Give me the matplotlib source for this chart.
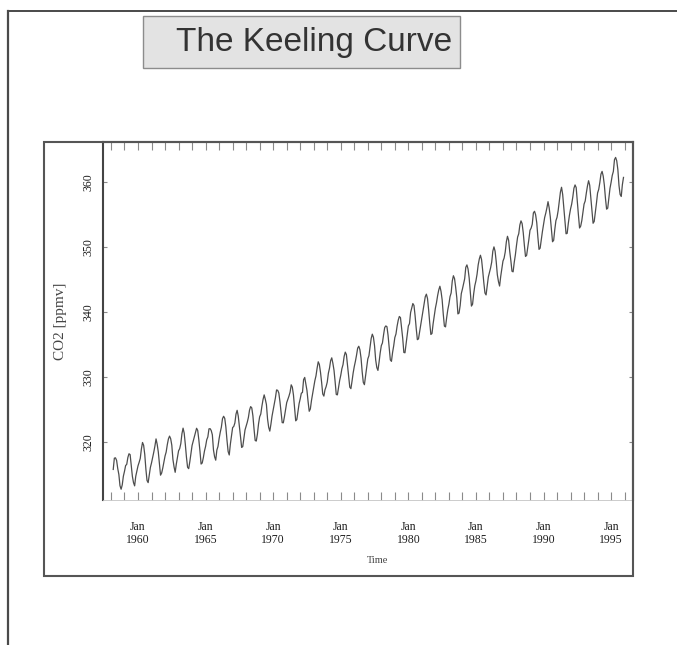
import matplotlib
matplotlib.use('Agg')
import matplotlib.pyplot as plt
from matplotlib.patches import Rectangle
from matplotlib.lines import Line2D
from matplotlib.ticker import FixedLocator
import numpy as np

W, H = 677, 645

title = "The Keeling Curve"
x_label = "Time"
y_label = "CO2 [ppmv]"

start_year = 1958
start_month = 3
co2_ppmv = [
    # 1958 (Mar-Dec)
    315.71, 317.45, 317.50, 317.10, 315.86, 314.93, 313.20, 312.66, 313.33, 314.67,
    # 1959
    315.42, 316.31, 316.50, 317.56, 318.13, 318.00, 316.39, 314.65, 313.68, 313.18, 314.66, 315.43,
    # 1960
    316.27, 316.81, 317.42, 318.87, 319.87, 319.43, 318.01, 315.74, 314.00, 313.68, 314.84, 316.03,
    # 1961
    316.73, 317.54, 318.38, 319.31, 320.42, 319.61, 318.42, 316.63, 314.83, 315.16, 315.94, 316.85,
    # 1962
    317.78, 318.40, 319.53, 320.42, 320.85, 320.45, 319.45, 317.25, 316.11, 315.27, 316.53, 317.53,
    # 1963
    318.58, 318.92, 319.70, 321.22, 322.08, 321.31, 319.58, 317.61, 316.05, 315.83, 316.91, 318.20,
    # 1964
    319.41, 320.07, 320.74, 321.40, 322.06, 321.73, 320.27, 318.54, 316.54, 316.71, 317.53, 318.55,
    # 1965
    319.27, 320.28, 320.73, 321.97, 322.00, 321.71, 321.05, 318.71, 317.66, 317.14, 318.70, 319.25,
    # 1966
    320.46, 321.43, 322.23, 323.54, 323.91, 323.59, 322.24, 320.20, 318.48, 317.94, 319.63, 320.87,
    # 1967
    322.17, 322.34, 322.88, 324.25, 324.83, 323.93, 322.38, 320.76, 319.10, 319.24, 320.56, 321.80,
    # 1968
    322.40, 322.99, 323.73, 324.86, 325.40, 325.20, 323.98, 321.95, 320.18, 320.09, 321.16, 322.74,
    # 1969
    323.83, 324.26, 325.47, 326.50, 327.21, 326.54, 325.72, 323.50, 322.22, 321.62, 322.69, 323.95,
    # 1970
    324.89, 325.82, 326.77, 327.97, 327.91, 327.50, 326.18, 324.53, 322.93, 322.90, 323.85, 324.96,
    # 1971
    326.01, 326.51, 327.01, 327.62, 328.76, 328.40, 327.20, 325.27, 323.20, 323.40, 324.63, 325.85,
    # 1972
    326.60, 327.47, 327.58, 329.56, 329.90, 328.92, 327.88, 326.16, 324.68, 325.04, 326.34, 327.39,
    # 1973
    328.37, 329.40, 330.14, 331.33, 332.31, 331.90, 330.70, 329.15, 327.35, 327.02, 327.99, 328.48,
    # 1974
    329.18, 330.55, 331.32, 332.48, 332.92, 332.08, 331.01, 329.23, 327.27, 327.21, 328.29, 329.41,
    # 1975
    330.23, 331.25, 331.87, 333.14, 333.80, 333.43, 331.73, 329.90, 328.40, 328.17, 329.32, 330.59,
    # 1976
    331.58, 332.39, 333.33, 334.41, 334.71, 334.17, 332.89, 330.77, 329.14, 328.78, 330.14, 331.52,
    # 1977
    332.75, 333.24, 334.53, 335.90, 336.57, 336.10, 334.76, 332.59, 331.42, 330.98, 332.24, 333.68,
    # 1978
    334.80, 335.22, 336.47, 337.59, 337.84, 337.72, 336.37, 334.51, 332.60, 332.38, 333.75, 334.78,
    # 1979
    336.05, 336.59, 337.79, 338.71, 339.30, 339.12, 337.56, 335.92, 333.75, 333.70, 335.12, 336.56,
    # 1980
    337.84, 338.19, 339.91, 340.60, 341.29, 341.00, 339.39, 337.43, 335.72, 335.84, 336.93, 338.04,
    # 1981
    339.06, 340.30, 341.21, 342.33, 342.74, 342.08, 340.32, 338.26, 336.52, 336.68, 338.19, 339.44,
    # 1982
    340.57, 341.44, 342.53, 343.39, 343.96, 343.18, 341.88, 339.65, 337.81, 337.69, 339.09, 340.32,
    # 1983
    341.20, 342.35, 342.93, 344.77, 345.58, 345.14, 343.81, 342.21, 339.69, 339.82, 340.98, 342.82,
    # 1984
    343.52, 344.33, 345.11, 346.88, 347.25, 346.62, 345.22, 343.11, 340.90, 341.18, 342.80, 344.04,
    # 1985
    344.79, 345.82, 347.25, 348.17, 348.74, 348.07, 346.38, 344.51, 342.92, 342.62, 344.06, 345.38,
    # 1986
    346.11, 346.78, 347.68, 349.37, 350.03, 349.37, 347.76, 345.73, 344.68, 343.99, 345.48, 346.72,
    # 1987
    347.84, 348.29, 349.23, 350.80, 351.66, 351.07, 349.33, 347.92, 346.27, 346.18, 347.64, 348.78,
    # 1988
    350.25, 351.54, 352.05, 353.41, 354.04, 353.62, 352.22, 350.27, 348.55, 348.72, 349.91, 351.18,
    # 1989
    352.60, 352.92, 353.53, 355.26, 355.52, 354.97, 353.75, 351.52, 349.64, 349.83, 351.14, 352.37,
    # 1990
    353.50, 354.55, 355.23, 356.04, 357.00, 356.07, 354.67, 352.76, 350.82, 351.04, 352.69, 354.07,
    # 1991
    354.59, 355.63, 357.03, 358.48, 359.22, 358.12, 356.06, 353.92, 352.05, 352.11, 353.64, 354.89,
    # 1992
    355.88, 356.63, 357.72, 359.07, 359.58, 359.17, 356.94, 354.92, 352.94, 353.23, 354.09, 355.33,
    # 1993
    356.63, 357.10, 358.32, 359.41, 360.23, 359.55, 357.53, 355.48, 353.67, 353.95, 355.30, 356.78,
    # 1994
    358.34, 358.89, 359.95, 361.25, 361.67, 360.94, 359.55, 357.49, 355.84, 356.00, 357.59, 359.05,
    # 1995
    359.98, 361.03, 361.66, 363.48, 363.82, 363.30, 361.94, 359.50, 358.11, 357.80, 359.61, 360.74,
]

major_years = [1960, 1965, 1970, 1975, 1980, 1985, 1990, 1995]
major_labels = ["Jan\n1960", "Jan\n1965", "Jan\n1970", "Jan\n1975",
                "Jan\n1980", "Jan\n1985", "Jan\n1990", "Jan\n1995"]
minor_years = list(range(1958, 1997))
y_ticks = [320, 330, 340, 350, 360]
y_tick_labels = ["320", "330", "340", "350", "360"]

time = start_year + (start_month - 1) / 12.0 + np.arange(len(co2_ppmv)) / 12.0

fig = plt.figure(figsize=(W / 100, H / 100), dpi=100)
fig.patch.set_facecolor('white')


def fx(x):
    return x / W


def fy(y):
    return 1 - y / H


# slide border lines
fig.add_artist(Line2D([fx(8), fx(8)], [fy(11), 0], color='#4a4a4a', lw=1.6,
                      transform=fig.transFigure))
fig.add_artist(Line2D([fx(8), 1], [fy(11), fy(11)], color='#4a4a4a', lw=1.4,
                      transform=fig.transFigure))

# title box
fig.add_artist(Rectangle((fx(143), fy(68)), fx(460) - fx(143), fy(16) - fy(68),
                         transform=fig.transFigure, facecolor='#e3e3e3',
                         edgecolor='#8c8c8c', lw=1.0))
fig.text(fx(314), fy(43), title, ha='center', va='center', fontsize=24,
         family='Liberation Sans', color='#333333')

# frame of the embedded plot
fig.add_artist(Rectangle((fx(44), fy(576)), fx(633) - fx(44), fy(142) - fy(576),
                         transform=fig.transFigure, fill=False,
                         edgecolor='#555555', lw=1.5))

ax = fig.add_axes([fx(103), fy(500), fx(633) - fx(103), fy(142) - fy(500)])
ax.plot(time, co2_ppmv, color='#4d4d4d', lw=0.9)
ax.set_xlim(1957.41, 1996.62)
ax.set_ylim(311.0, 366.2)

ax.xaxis.set_major_locator(FixedLocator(major_years))
ax.xaxis.set_minor_locator(FixedLocator(minor_years))
ax.set_xticklabels(major_labels, family='Liberation Serif', fontsize=8.5,
                   color='#1e1e1e', linespacing=1.1)
ax.set_yticks(y_ticks)
ax.set_yticklabels(y_tick_labels, family='Liberation Serif', fontsize=8.5,
                   color='#1e1e1e', rotation=90, va='center')

ax.tick_params(axis='x', which='both', direction='in', top=True,
               color='#8a8a8a', width=0.8, length=6, pad=15)
ax.tick_params(axis='y', which='major', direction='in', right=True,
               color='#8a8a8a', width=0.8, length=3, pad=6)

for side in ['left', 'top', 'right']:
    ax.spines[side].set_color('#444444')
    ax.spines[side].set_linewidth(1.5)
ax.spines['bottom'].set_color('#c4c4c4')
ax.spines['bottom'].set_linewidth(0.6)

ax.set_ylabel(y_label, family='Liberation Serif', fontsize=11, color='#444444')
ax.yaxis.set_label_coords((67 - 103) / 530, 0.5)
ax.set_xlabel(x_label, family='Liberation Serif', fontsize=7.5, color='#444444')
ax.xaxis.set_label_coords((378 - 103) / 530, (500 - 556) / 358)

fig.savefig('out.png', dpi=100, facecolor='white')
